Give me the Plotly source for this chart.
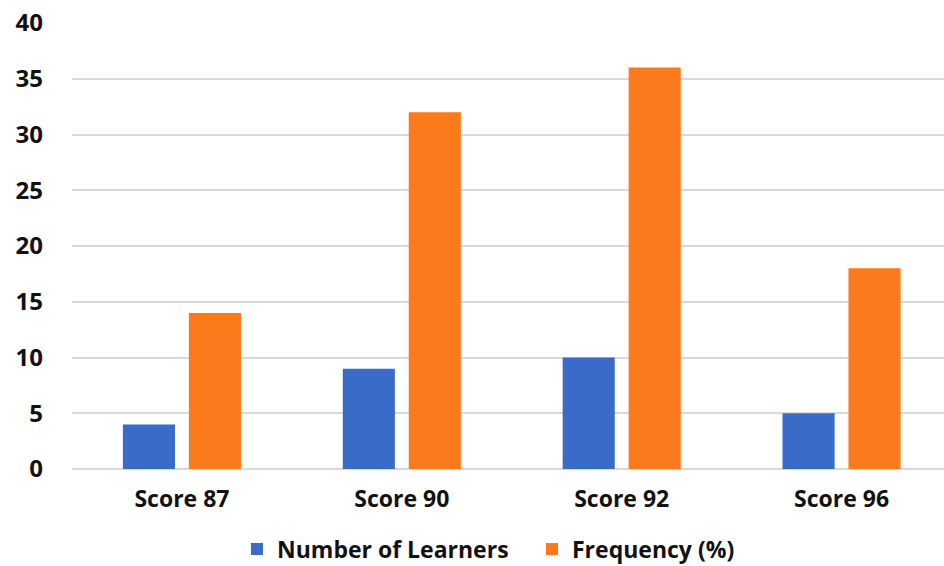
import plotly.graph_objects as go

categories = ["Score 87", "Score 90", "Score 92", "Score 96"]
learners = [4, 9, 10, 5]
frequency = [14, 32, 36, 18]
y_ticks = [0, 5, 10, 15, 20, 25, 30, 35, 40]

BLUE = "#3A6BC9"
ORANGE = "#FB7A1C"
FONT = "Open Sans"
FS = 23

fig = go.Figure()
fig.add_trace(go.Bar(x=categories, y=learners, name="Number of Learners",
                     marker=dict(color=BLUE, line=dict(width=0)), legend="legend"))
fig.add_trace(go.Bar(x=categories, y=frequency, name="Frequency (%)",
                     marker=dict(color=ORANGE, line=dict(width=0)), legend="legend2"))

W, H = 944, 566
left, top, bottom = 71.5, 22.5, 97
cat_px = 220.0
plot_w = W - left
legfont = dict(family=FONT, size=FS, color="#111111", weight="bold")
leg_y = 1 - 549 / H
fig.update_layout(
    width=W, height=H,
    margin=dict(l=left, r=0, t=top, b=bottom, pad=0),
    paper_bgcolor="white", plot_bgcolor="white",
    barmode="group", bargap=0.40, bargroupgap=0.21,
    font=dict(family=FONT, size=FS, color="#111111"),
    xaxis=dict(
        range=[-0.5, -0.5 + plot_w / cat_px],
        showgrid=False, zeroline=False, showline=False,
        ticks="", ticklabelstandoff=14,
        tickfont=dict(family=FONT, size=FS, color="#111111", weight="bold"),
    ),
    yaxis=dict(
        range=[0, 40], tickvals=y_ticks,
        showgrid=True, gridcolor="#D9D9D9", gridwidth=1.5,
        zeroline=True, zerolinecolor="#D9D9D9", zerolinewidth=1.5,
        showline=False, ticks="", ticklabelstandoff=28,
        tickfont=dict(family=FONT, size=FS + 1, color="#111111", weight="bold"),
    ),
    legend=dict(
        orientation="h", xref="container", yref="container",
        x=237 / W, xanchor="left", y=leg_y, yanchor="middle",
        font=legfont, itemwidth=30, bgcolor="rgba(0,0,0,0)",
    ),
    legend2=dict(
        orientation="h", xref="container", yref="container",
        x=532 / W, xanchor="left", y=leg_y, yanchor="middle",
        font=legfont, itemwidth=30, bgcolor="rgba(0,0,0,0)",
    ),
    showlegend=True,
)

fig.write_html("out.html")
